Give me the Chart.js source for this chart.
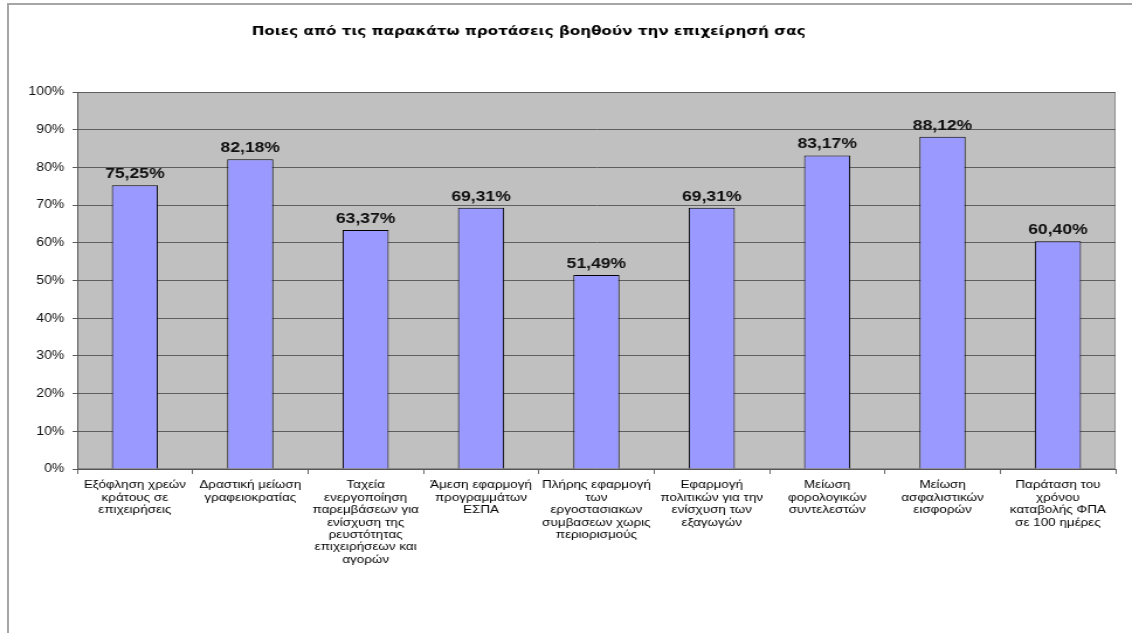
<!DOCTYPE html>
<html>
<head>
<meta charset="utf-8">
<script src="https://cdn.jsdelivr.net/npm/chart.js@4"></script>
<style>
  html, body { margin: 0; padding: 0; background: #fff; overflow: hidden; }
  #wrap { position: relative; width: 1132px; height: 633px; overflow: hidden; }
  #frame { position: absolute; left: 7px; top: 3px; width: 1140px; height: 650px; border: 2px solid #a6a6a6; box-sizing: border-box; }
  /* the original picture is stretched sideways, so the canvas is too */
  #stretch { position: absolute; left: 0; top: 0; width: 968px; height: 633px; transform: scaleX(1.1694); transform-origin: 0 0; }
  canvas { display: block; }
</style>
</head>
<body>
<div id="wrap">
  <div id="frame"></div>
  <div id="stretch"><canvas id="chart1" width="968" height="633"></canvas></div>
</div>
<script>
var chartTitle = 'Ποιες από τις παρακάτω προτάσεις βοηθούν την επιχείρησή σας';

var categories = [
    ['Εξόφληση χρεών', 'κράτους σε', 'επιχειρήσεις'],
    ['Δραστική μείωση', 'γραφειοκρατίας'],
    ['Ταχεία', 'ενεργοποίηση', 'παρεμβάσεων για', 'ενίσχυση της', 'ρευστότητας', 'επιχειρήσεων και', 'αγορών'],
    ['Άμεση εφαρμογή', 'προγραμμάτων', 'ΕΣΠΑ'],
    ['Πλήρης εφαρμογή', 'των', 'εργοστασιακων', 'συμβασεων χωρις', 'περιορισμούς'],
    ['Εφαρμογή', 'πολιτικών για την', 'ενίσχυση των', 'εξαγωγών'],
    ['Μείωση', 'φορολογικών', 'συντελεστών'],
    ['Μείωση', 'ασφαλιστικών', 'εισφορών'],
    ['Παράταση του', 'χρόνου', 'καταβολής ΦΠΑ', 'σε 100 ημέρες']
];

var values = [75.25, 82.18, 63.37, 69.31, 51.49, 69.31, 83.17, 88.12, 60.40];

var yTicks = [0, 10, 20, 30, 40, 50, 60, 70, 80, 90, 100];

// plot background, border, title and value labels
var decor = {
    id: 'decor',
    beforeDraw: function(chart) {
        var c = chart.ctx, a = chart.chartArea;
        c.save();
        c.fillStyle = '#c0c0c0';
        c.fillRect(a.left, a.top, a.right - a.left, a.bottom - a.top);
        c.strokeStyle = '#8c8c8c';
        c.lineWidth = 1;
        c.strokeRect(a.left + 0.5, a.top + 0.5, a.right - a.left - 1, a.bottom - a.top - 1);
        c.restore();
    },
    afterDraw: function(chart) {
        var c = chart.ctx;
        c.save();
        c.fillStyle = '#000';
        c.font = 'bold 13px "DejaVu Sans", sans-serif';
        c.textAlign = 'center';
        c.textBaseline = 'middle';
        c.fillText(chartTitle, 452, 32);

        c.fillStyle = '#111';
        c.font = 'bold 15px "Liberation Sans", Arial, sans-serif';
        c.textBaseline = 'alphabetic';
        var meta = chart.getDatasetMeta(0);
        meta.data.forEach(function(bar, i) {
            var txt = values[i].toFixed(2).replace('.', ',') + '%';
            c.fillText(txt, bar.x, bar.y - 7);
        });
        c.restore();
    }
};

var ctx = document.getElementById('chart1').getContext('2d');
var myChart = new Chart(ctx, {
    type: 'bar',
    data: {
        labels: categories,
        datasets: [{
            data: values,
            backgroundColor: '#9999ff',
            borderColor: '#000',
            borderWidth: 1,
            barPercentage: 0.4,
            categoryPercentage: 1
        }]
    },
    options: {
        responsive: false,
        animation: false,
        layout: {
            padding: { left: 6, top: 92, right: 14, bottom: 0 }
        },
        plugins: {
            legend: { display: false },
            tooltip: { enabled: false },
            title: { display: false }
        },
        scales: {
            x: {
                grid: {
                    drawOnChartArea: false,
                    drawTicks: true,
                    tickLength: 5,
                    color: '#666'
                },
                border: { color: '#555', width: 1 },
                ticks: {
                    color: '#000',
                    maxRotation: 0,
                    autoSkip: false,
                    padding: 5,
                    font: { family: '"Liberation Sans", Arial, sans-serif', size: 11.5, lineHeight: 1.08 }
                },
                afterFit: function(scale) { scale.height = 633 - 469; }
            },
            y: {
                min: 0,
                max: 100,
                afterBuildTicks: function(scale) {
                    scale.ticks = yTicks.map(function(v) { return { value: v }; });
                },
                grid: {
                    color: '#5e5e5e',
                    tickLength: 4
                },
                border: { color: '#555', width: 1 },
                ticks: {
                    color: '#111',
                    padding: 7,
                    font: { family: '"Liberation Sans", Arial, sans-serif', size: 12 },
                    callback: function(v) { return v + '%'; }
                },
                afterFit: function(scale) { scale.width = 66 - 6; }
            }
        }
    },
    plugins: [decor]
});
</script>
</body>
</html>
